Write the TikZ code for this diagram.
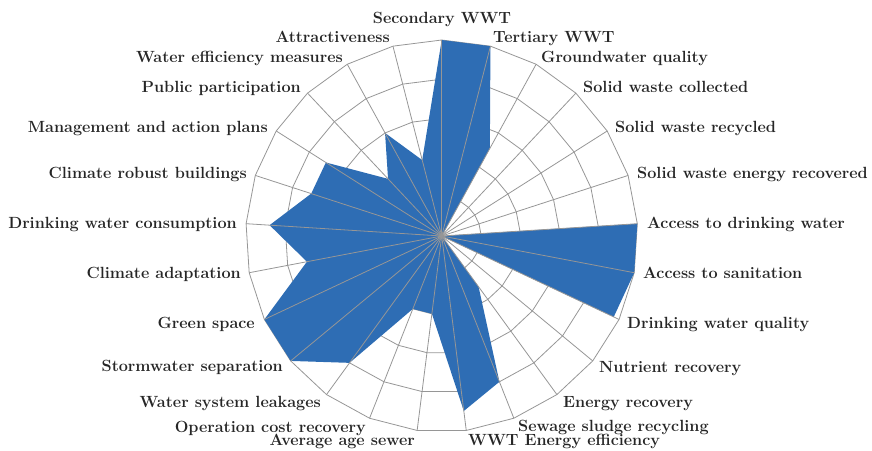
\documentclass[tikz,border=0pt]{standalone}
\usepackage{fontspec}
\definecolor{chartblue}{RGB}{46,109,180}
\definecolor{gridgray}{RGB}{150,150,150}
\definecolor{labelgray}{RGB}{38,38,38}
\begin{document}
\begin{tikzpicture}[x=1pt,y=1pt,
  lbl/.style={font=\fontsize{16.2}{19}\selectfont\bfseries, text=labelgray, inner sep=0pt, yshift=-3.5pt},
  lblR/.style={lbl, anchor=mid west},
  lblL/.style={lbl, anchor=mid east},
  gridline/.style={draw=gridgray, line width=0.8pt},
  spoke/.style={draw=gridgray, line width=0.8pt}]
\useasboundingbox (0,0) rectangle (872,450);
\begin{scope}[shift={(441.7,214)}]
  \coordinate (O) at (0,0);
  % rings
  \foreach \r in {39.2,78.4,117.6,156.8,196} {
    \draw[gridline] (90:\r) \foreach \k in {1,...,24} { -- ({90-14.4*\k}:\r) } -- cycle;
  }
  % data polygon
  \fill[chartblue] (90:196)
    \foreach \v [count=\k from 1] in {1,0.51,0,0,0,1,1,0.97,0,0.32,0.8,0.9,0.4,0.4,0.8,1,1,0.7,0.88,0.7,0.7,0.4,0.6,0.4}
    { -- ({90-14.4*\k}:{196*\v}) } -- cycle;
  % spokes
  \foreach \k in {0,...,24} {
    \coordinate (s\k) at ({90-14.4*\k}:196);
    \draw[spoke] (O) -- (s\k);
  }
\end{scope}
% labels
\node[lbl, anchor=mid] (l0) at (442,432) {Secondary WWT};
\node[lblR] (l1) at (493,413) {Tertiary WWT};
\node[lblR] (l2) at (541,393) {Groundwater quality};
\node[lblR] (l3) at (583,363) {Solid waste collected};
\node[lblR] (l4) at (615,323) {Solid waste recycled};
\node[lblR] (l5) at (637,277) {Solid waste energy recovered};
\node[lblR] (l6) at (647,227) {Access to drinking water};
\node[lblR] (l7) at (643,177) {Access to sanitation};
\node[lblR] (l8) at (627,127) {Drinking water quality};
\node[lblR] (l9) at (599,83) {Nutrient recovery};
\node[lblR] (l10) at (563,48) {Energy recovery};
\node[lblR] (l11) at (518,24) {Sewage sludge recycling};
\node[lblR] (l12) at (468,10) {WWT Energy efficiency};
\node[lblL] (l13) at (415,10) {Average age sewer};
\node[lblL] (l14) at (366,23) {Operation cost recovery};
\node[lblL] (l15) at (321,48) {Water system leakages};
\node[lblL] (l16) at (283,84) {Stormwater separation};
\node[lblL] (l17) at (255,127) {Green space};
\node[lblL] (l18) at (241,177) {Climate adaptation};
\node[lblL] (l19) at (237,227) {Drinking water consumption};
\node[lblL] (l20) at (247,277) {Climate robust buildings};
\node[lblL] (l21) at (268,323) {Management and action plans};
\node[lblL] (l22) at (301,363) {Public participation};
\node[lblL] (l23) at (343,393) {Water efficiency measures};
\node[lblL] (l24) at (390,413) {Attractiveness};
\end{tikzpicture}
\end{document}
